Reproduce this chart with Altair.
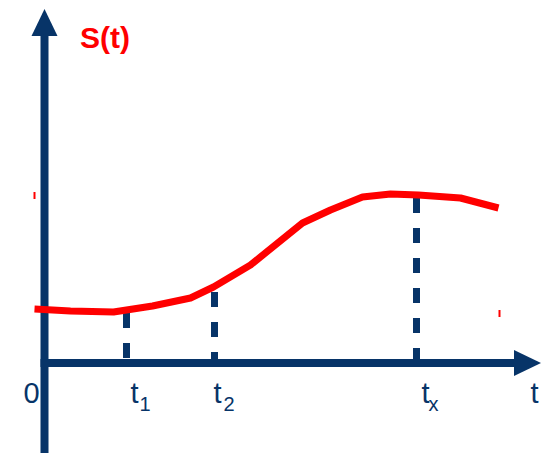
import altair as alt
import pandas as pd

NAVY = "#073468"
RED = "#ff0000"
FONT = "Liberation Sans"

# S(t) curve vertices
curve_t = [-10, 26, 69, 108, 146, 169, 206, 258, 286, 318, 346, 374, 416, 454]
curve_s = [54, 52, 51, 57, 65, 76, 98, 140, 153, 166, 169, 168, 165, 155]

# marked instants t1, t2, tx and where each dashed drop line starts
mark_t = [82, 170, 372]
mark_top = [50, 71, 165]

# axis shafts
yaxis_t = [0]
yaxis_from = [-90]
yaxis_to = [327]
xaxis_from = [-4]
xaxis_to = [470]
xaxis_s = [0]

# arrow heads (centre positions)
head_up_t = [0]
head_up_s = [340.5]
head_right_t = [483]
head_right_s = [0]

# tick labels on the time axis
label_text = ["0", "t", "t", "t", "t"]
label_t = [-21, 86, 169, 377, 486]
label_s = [-40, -40, -40, -40, -40]
sub_text = ["1", "2", "x"]
sub_t = [95, 179, 384]
sub_s = [-48, -48, -48]

# small red marks
stray_t = [-10, 455]
stray_from = [171, 53]
stray_to = [164, 46]

XS = alt.Scale(domain=[-44.5, 506.5])
YS = alt.Scale(domain=[-90, 363])


def xenc(f):
    return alt.X(f, type="quantitative", scale=XS, axis=None)


def yenc(f):
    return alt.Y(f, type="quantitative", scale=YS, axis=None)


curve = pd.DataFrame({"t": curve_t, "s": curve_s, "o": range(len(curve_t))})
marks = pd.DataFrame({"t": mark_t, "s0": mark_top, "s1": [0] * len(mark_t)})
yaxis = pd.DataFrame({"t": yaxis_t, "s0": yaxis_from, "s1": yaxis_to})
xaxis = pd.DataFrame({"t0": xaxis_from, "t1": xaxis_to, "s": xaxis_s})
head_up = pd.DataFrame({"t": head_up_t, "s": head_up_s})
head_right = pd.DataFrame({"t": head_right_t, "s": head_right_s})
labels = pd.DataFrame({"t": label_t, "s": label_s, "txt": label_text})
subs = pd.DataFrame({"t": sub_t, "s": sub_s, "txt": sub_text})
title = pd.DataFrame({"t": [35.5], "s": [315], "txt": ["S(t)"]})
stray = pd.DataFrame({"t": stray_t, "s0": stray_from, "s1": stray_to})

y_shaft = alt.Chart(yaxis).mark_rule(color=NAVY, strokeWidth=8).encode(
    x=xenc("t"), y=yenc("s0"), y2="s1"
)
x_shaft = alt.Chart(xaxis).mark_rule(color=NAVY, strokeWidth=8).encode(
    x=xenc("t0"), x2="t1", y=yenc("s")
)
up = alt.Chart(head_up).mark_point(
    shape="M0,-1.04L1,1.04L-1,1.04Z", size=676, filled=True,
    fill=NAVY, opacity=1, strokeWidth=0
).encode(x=xenc("t"), y=yenc("s"))
right = alt.Chart(head_right).mark_point(
    shape="M1.04,0L-1.04,1L-1.04,-1Z", size=676, filled=True,
    fill=NAVY, opacity=1, strokeWidth=0
).encode(x=xenc("t"), y=yenc("s"))

drops = alt.Chart(marks).mark_rule(
    color=NAVY, strokeWidth=7, strokeDash=[15, 15]
).encode(x=xenc("t"), y=yenc("s0"), y2="s1")

line = alt.Chart(curve).mark_line(
    color=RED, strokeWidth=7, strokeJoin="round"
).encode(x=xenc("t"), y=yenc("s"), order="o:Q")

ticks = alt.Chart(stray).mark_rule(color=RED, strokeWidth=2).encode(
    x=xenc("t"), y=yenc("s0"), y2="s1"
)

main_txt = alt.Chart(labels).mark_text(
    font=FONT, fontSize=29, color=NAVY, align="left", baseline="alphabetic"
).encode(x=xenc("t"), y=yenc("s"), text="txt:N")
sub_txt = alt.Chart(subs).mark_text(
    font=FONT, fontSize=20, color=NAVY, align="left", baseline="alphabetic"
).encode(x=xenc("t"), y=yenc("s"), text="txt:N")
title_txt = alt.Chart(title).mark_text(
    font=FONT, fontSize=30, fontWeight="bold", color=RED,
    align="left", baseline="alphabetic"
).encode(x=xenc("t"), y=yenc("s"), text="txt:N")

chart = alt.layer(
    y_shaft, x_shaft, up, right, drops, line, ticks, main_txt, sub_txt, title_txt
).properties(
    width=551, height=453, padding=0, autosize=alt.AutoSizeParams(type="none"),
    background="white"
).configure_view(stroke=None)

chart.save("out.html", embed_options={"renderer": "svg", "actions": False})
